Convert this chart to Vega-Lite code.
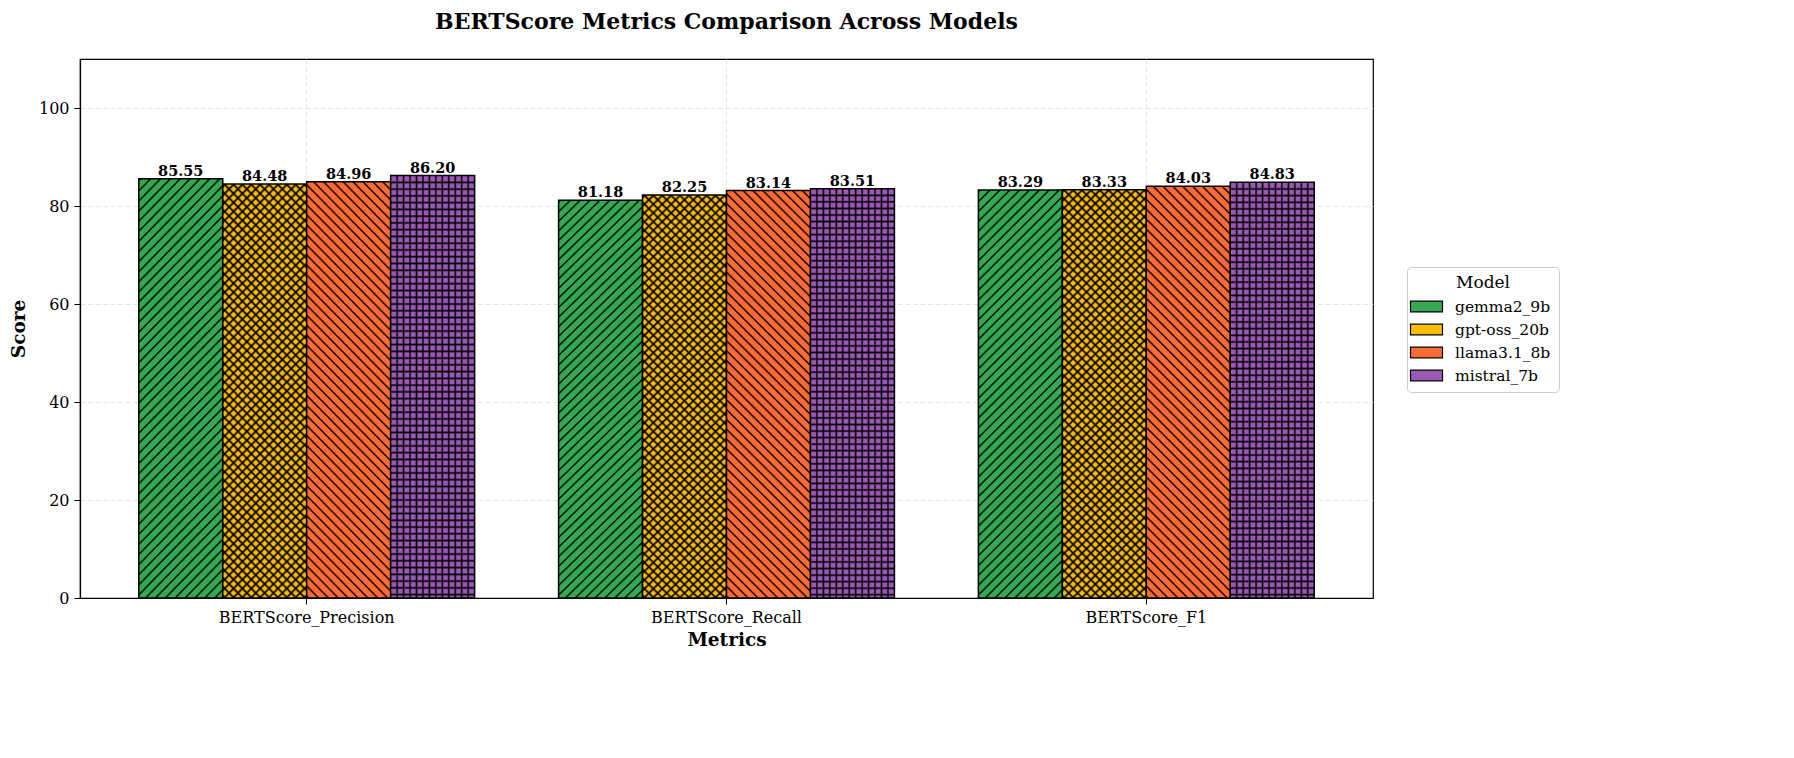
{
  "$schema": "https://vega.github.io/schema/vega-lite/v6.json",
  "width": 1293,
  "height": 539,
  "autosize": {"type": "none"},
  "padding": {"left": 80, "top": 59, "right": 421, "bottom": 160},
  "background": "white",
  "title": {"text": "BERTScore Metrics Comparison Across Models", "fontSize": 22, "fontWeight": "bold", "font": "DejaVu Serif", "anchor": "middle", "offset": 25, "color": "black"},
  "config": {
    "font": "DejaVu Serif",
    "view": {"stroke": "black", "strokeWidth": 1.2},
    "axis": {"labelFont": "DejaVu Serif", "labelFontSize": 16, "labelColor": "black", "titleFont": "DejaVu Serif", "titleFontSize": 18.5, "titleFontWeight": "bold", "titleColor": "black", "domainColor": "black", "domainWidth": 1.2, "tickColor": "black", "tickSize": 6, "tickWidth": 1, "gridColor": "#e0e0e0", "gridDash": [5, 2.5], "gridWidth": 0.8, "labelPadding": 5}
  },
  "data": {"values": [
    {"metric": "BERTScore_Precision", "model": "gemma2_9b", "score": 85.55},
    {"metric": "BERTScore_Precision", "model": "gpt-oss_20b", "score": 84.48},
    {"metric": "BERTScore_Precision", "model": "llama3.1_8b", "score": 84.96},
    {"metric": "BERTScore_Precision", "model": "mistral_7b", "score": 86.20},
    {"metric": "BERTScore_Recall", "model": "gemma2_9b", "score": 81.18},
    {"metric": "BERTScore_Recall", "model": "gpt-oss_20b", "score": 82.25},
    {"metric": "BERTScore_Recall", "model": "llama3.1_8b", "score": 83.14},
    {"metric": "BERTScore_Recall", "model": "mistral_7b", "score": 83.51},
    {"metric": "BERTScore_F1", "model": "gemma2_9b", "score": 83.29},
    {"metric": "BERTScore_F1", "model": "gpt-oss_20b", "score": 83.33},
    {"metric": "BERTScore_F1", "model": "llama3.1_8b", "score": 84.03},
    {"metric": "BERTScore_F1", "model": "mistral_7b", "score": 84.83}
  ]},
  "encoding": {
    "x": {"field": "metric", "type": "nominal", "sort": ["BERTScore_Precision", "BERTScore_Recall", "BERTScore_F1"], "scale": {"domain": ["BERTScore_Precision", "BERTScore_Recall", "BERTScore_F1"], "paddingInner": 0.2, "paddingOuter": 0.14}, "axis": {"title": "Metrics", "labelAngle": 0, "grid": true, "bandPosition": 0.5, "titlePadding": 5}},
    "xOffset": {"field": "model", "type": "nominal", "scale": {"domain": ["gemma2_9b", "gpt-oss_20b", "llama3.1_8b", "mistral_7b"], "paddingInner": 0, "paddingOuter": 0}},
    "y": {"field": "score", "type": "quantitative", "scale": {"domain": [0, 110], "nice": false}, "axis": {"title": "Score", "values": [0, 20, 40, 60, 80, 100], "grid": true, "titlePadding": 10}}
  },
  "layer": [
    {
      "mark": {"type": "bar", "stroke": "black", "strokeWidth": 1.5},
      "encoding": {
        "color": {"field": "model", "type": "nominal", "scale": {"domain": ["gemma2_9b", "gpt-oss_20b", "llama3.1_8b", "mistral_7b"], "range": ["#34A853", "#FBBC04", "#FF6B35", "#9B59B6"]}, "legend": {"title": "Model", "orient": "none", "legendX": 1327, "legendY": 208, "direction": "vertical", "symbolType": "M-1.5,-0.5H1.5V0.5H-1.5Z", "symbolSize": 455, "symbolStrokeColor": "black", "symbolStrokeWidth": 1.2, "symbolOpacity": 1, "labelFontSize": 15.5, "labelFont": "DejaVu Serif", "labelColor": "black", "labelOffset": 17, "titleFontSize": 17, "titleFontWeight": "normal", "titleFont": "DejaVu Serif", "titleColor": "black", "titleAnchor": "middle", "titlePadding": 3, "padding": 8, "fillColor": "white", "strokeColor": "#cccccc", "cornerRadius": 4, "rowPadding": 3}}
      }
    },
    {
      "transform": [{"filter": "datum.model === 'gemma2_9b'"}],
      "mark": {"type": "bar", "strokeWidth": 0, "fill": {"gradient": "linear", "x1": 0, "y1": 0, "x2": 0.237, "y2": 1.156, "stops": [
        {"offset":0,"color":"#0000"},{"offset":0.004,"color":"#000"},{"offset":0.008,"color":"#0000"},
        {"offset":0.02,"color":"#0000"},{"offset":0.024,"color":"#000"},{"offset":0.028,"color":"#0000"},
        {"offset":0.04,"color":"#0000"},{"offset":0.044,"color":"#000"},{"offset":0.048,"color":"#0000"},
        {"offset":0.06,"color":"#0000"},{"offset":0.064,"color":"#000"},{"offset":0.068,"color":"#0000"},
        {"offset":0.08,"color":"#0000"},{"offset":0.084,"color":"#000"},{"offset":0.088,"color":"#0000"},
        {"offset":0.1,"color":"#0000"},{"offset":0.104,"color":"#000"},{"offset":0.108,"color":"#0000"},
        {"offset":0.12,"color":"#0000"},{"offset":0.124,"color":"#000"},{"offset":0.128,"color":"#0000"},
        {"offset":0.14,"color":"#0000"},{"offset":0.144,"color":"#000"},{"offset":0.148,"color":"#0000"},
        {"offset":0.16,"color":"#0000"},{"offset":0.164,"color":"#000"},{"offset":0.168,"color":"#0000"},
        {"offset":0.18,"color":"#0000"},{"offset":0.184,"color":"#000"},{"offset":0.188,"color":"#0000"},
        {"offset":0.2,"color":"#0000"},{"offset":0.204,"color":"#000"},{"offset":0.208,"color":"#0000"},
        {"offset":0.22,"color":"#0000"},{"offset":0.224,"color":"#000"},{"offset":0.228,"color":"#0000"},
        {"offset":0.24,"color":"#0000"},{"offset":0.244,"color":"#000"},{"offset":0.248,"color":"#0000"},
        {"offset":0.26,"color":"#0000"},{"offset":0.264,"color":"#000"},{"offset":0.268,"color":"#0000"},
        {"offset":0.28,"color":"#0000"},{"offset":0.284,"color":"#000"},{"offset":0.288,"color":"#0000"},
        {"offset":0.3,"color":"#0000"},{"offset":0.304,"color":"#000"},{"offset":0.308,"color":"#0000"},
        {"offset":0.32,"color":"#0000"},{"offset":0.324,"color":"#000"},{"offset":0.328,"color":"#0000"},
        {"offset":0.34,"color":"#0000"},{"offset":0.344,"color":"#000"},{"offset":0.348,"color":"#0000"},
        {"offset":0.36,"color":"#0000"},{"offset":0.364,"color":"#000"},{"offset":0.368,"color":"#0000"},
        {"offset":0.38,"color":"#0000"},{"offset":0.384,"color":"#000"},{"offset":0.388,"color":"#0000"},
        {"offset":0.4,"color":"#0000"},{"offset":0.404,"color":"#000"},{"offset":0.408,"color":"#0000"},
        {"offset":0.42,"color":"#0000"},{"offset":0.424,"color":"#000"},{"offset":0.428,"color":"#0000"},
        {"offset":0.44,"color":"#0000"},{"offset":0.444,"color":"#000"},{"offset":0.448,"color":"#0000"},
        {"offset":0.46,"color":"#0000"},{"offset":0.464,"color":"#000"},{"offset":0.468,"color":"#0000"},
        {"offset":0.48,"color":"#0000"},{"offset":0.484,"color":"#000"},{"offset":0.488,"color":"#0000"},
        {"offset":0.5,"color":"#0000"},{"offset":0.504,"color":"#000"},{"offset":0.508,"color":"#0000"},
        {"offset":0.52,"color":"#0000"},{"offset":0.524,"color":"#000"},{"offset":0.528,"color":"#0000"},
        {"offset":0.54,"color":"#0000"},{"offset":0.544,"color":"#000"},{"offset":0.548,"color":"#0000"},
        {"offset":0.56,"color":"#0000"},{"offset":0.564,"color":"#000"},{"offset":0.568,"color":"#0000"},
        {"offset":0.58,"color":"#0000"},{"offset":0.584,"color":"#000"},{"offset":0.588,"color":"#0000"},
        {"offset":0.6,"color":"#0000"},{"offset":0.604,"color":"#000"},{"offset":0.608,"color":"#0000"},
        {"offset":0.62,"color":"#0000"},{"offset":0.624,"color":"#000"},{"offset":0.628,"color":"#0000"},
        {"offset":0.64,"color":"#0000"},{"offset":0.644,"color":"#000"},{"offset":0.648,"color":"#0000"},
        {"offset":0.66,"color":"#0000"},{"offset":0.664,"color":"#000"},{"offset":0.668,"color":"#0000"},
        {"offset":0.68,"color":"#0000"},{"offset":0.684,"color":"#000"},{"offset":0.688,"color":"#0000"},
        {"offset":0.7,"color":"#0000"},{"offset":0.704,"color":"#000"},{"offset":0.708,"color":"#0000"},
        {"offset":0.72,"color":"#0000"},{"offset":0.724,"color":"#000"},{"offset":0.728,"color":"#0000"},
        {"offset":0.74,"color":"#0000"},{"offset":0.744,"color":"#000"},{"offset":0.748,"color":"#0000"},
        {"offset":0.76,"color":"#0000"},{"offset":0.764,"color":"#000"},{"offset":0.768,"color":"#0000"},
        {"offset":0.78,"color":"#0000"},{"offset":0.784,"color":"#000"},{"offset":0.788,"color":"#0000"},
        {"offset":0.8,"color":"#0000"},{"offset":0.804,"color":"#000"},{"offset":0.808,"color":"#0000"},
        {"offset":0.82,"color":"#0000"},{"offset":0.824,"color":"#000"},{"offset":0.828,"color":"#0000"},
        {"offset":0.84,"color":"#0000"},{"offset":0.844,"color":"#000"},{"offset":0.848,"color":"#0000"},
        {"offset":0.86,"color":"#0000"},{"offset":0.864,"color":"#000"},{"offset":0.868,"color":"#0000"},
        {"offset":0.88,"color":"#0000"},{"offset":0.884,"color":"#000"},{"offset":0.888,"color":"#0000"},
        {"offset":0.9,"color":"#0000"},{"offset":0.904,"color":"#000"},{"offset":0.908,"color":"#0000"},
        {"offset":0.92,"color":"#0000"},{"offset":0.924,"color":"#000"},{"offset":0.928,"color":"#0000"},
        {"offset":0.94,"color":"#0000"},{"offset":0.944,"color":"#000"},{"offset":0.948,"color":"#0000"},
        {"offset":0.96,"color":"#0000"},{"offset":0.964,"color":"#000"},{"offset":0.968,"color":"#0000"},
        {"offset":0.98,"color":"#0000"},{"offset":0.984,"color":"#000"},{"offset":0.988,"color":"#0000"}
      ]}}
    },
    {
      "transform": [{"filter": "datum.model === 'llama3.1_8b'"}],
      "mark": {"type": "bar", "strokeWidth": 0, "fill": {"gradient": "linear", "x1": 0, "y1": 1, "x2": 0.237, "y2": -0.156, "stops": [
        {"offset":0,"color":"#0000"},{"offset":0.004,"color":"#000"},{"offset":0.008,"color":"#0000"},
        {"offset":0.02,"color":"#0000"},{"offset":0.024,"color":"#000"},{"offset":0.028,"color":"#0000"},
        {"offset":0.04,"color":"#0000"},{"offset":0.044,"color":"#000"},{"offset":0.048,"color":"#0000"},
        {"offset":0.06,"color":"#0000"},{"offset":0.064,"color":"#000"},{"offset":0.068,"color":"#0000"},
        {"offset":0.08,"color":"#0000"},{"offset":0.084,"color":"#000"},{"offset":0.088,"color":"#0000"},
        {"offset":0.1,"color":"#0000"},{"offset":0.104,"color":"#000"},{"offset":0.108,"color":"#0000"},
        {"offset":0.12,"color":"#0000"},{"offset":0.124,"color":"#000"},{"offset":0.128,"color":"#0000"},
        {"offset":0.14,"color":"#0000"},{"offset":0.144,"color":"#000"},{"offset":0.148,"color":"#0000"},
        {"offset":0.16,"color":"#0000"},{"offset":0.164,"color":"#000"},{"offset":0.168,"color":"#0000"},
        {"offset":0.18,"color":"#0000"},{"offset":0.184,"color":"#000"},{"offset":0.188,"color":"#0000"},
        {"offset":0.2,"color":"#0000"},{"offset":0.204,"color":"#000"},{"offset":0.208,"color":"#0000"},
        {"offset":0.22,"color":"#0000"},{"offset":0.224,"color":"#000"},{"offset":0.228,"color":"#0000"},
        {"offset":0.24,"color":"#0000"},{"offset":0.244,"color":"#000"},{"offset":0.248,"color":"#0000"},
        {"offset":0.26,"color":"#0000"},{"offset":0.264,"color":"#000"},{"offset":0.268,"color":"#0000"},
        {"offset":0.28,"color":"#0000"},{"offset":0.284,"color":"#000"},{"offset":0.288,"color":"#0000"},
        {"offset":0.3,"color":"#0000"},{"offset":0.304,"color":"#000"},{"offset":0.308,"color":"#0000"},
        {"offset":0.32,"color":"#0000"},{"offset":0.324,"color":"#000"},{"offset":0.328,"color":"#0000"},
        {"offset":0.34,"color":"#0000"},{"offset":0.344,"color":"#000"},{"offset":0.348,"color":"#0000"},
        {"offset":0.36,"color":"#0000"},{"offset":0.364,"color":"#000"},{"offset":0.368,"color":"#0000"},
        {"offset":0.38,"color":"#0000"},{"offset":0.384,"color":"#000"},{"offset":0.388,"color":"#0000"},
        {"offset":0.4,"color":"#0000"},{"offset":0.404,"color":"#000"},{"offset":0.408,"color":"#0000"},
        {"offset":0.42,"color":"#0000"},{"offset":0.424,"color":"#000"},{"offset":0.428,"color":"#0000"},
        {"offset":0.44,"color":"#0000"},{"offset":0.444,"color":"#000"},{"offset":0.448,"color":"#0000"},
        {"offset":0.46,"color":"#0000"},{"offset":0.464,"color":"#000"},{"offset":0.468,"color":"#0000"},
        {"offset":0.48,"color":"#0000"},{"offset":0.484,"color":"#000"},{"offset":0.488,"color":"#0000"},
        {"offset":0.5,"color":"#0000"},{"offset":0.504,"color":"#000"},{"offset":0.508,"color":"#0000"},
        {"offset":0.52,"color":"#0000"},{"offset":0.524,"color":"#000"},{"offset":0.528,"color":"#0000"},
        {"offset":0.54,"color":"#0000"},{"offset":0.544,"color":"#000"},{"offset":0.548,"color":"#0000"},
        {"offset":0.56,"color":"#0000"},{"offset":0.564,"color":"#000"},{"offset":0.568,"color":"#0000"},
        {"offset":0.58,"color":"#0000"},{"offset":0.584,"color":"#000"},{"offset":0.588,"color":"#0000"},
        {"offset":0.6,"color":"#0000"},{"offset":0.604,"color":"#000"},{"offset":0.608,"color":"#0000"},
        {"offset":0.62,"color":"#0000"},{"offset":0.624,"color":"#000"},{"offset":0.628,"color":"#0000"},
        {"offset":0.64,"color":"#0000"},{"offset":0.644,"color":"#000"},{"offset":0.648,"color":"#0000"},
        {"offset":0.66,"color":"#0000"},{"offset":0.664,"color":"#000"},{"offset":0.668,"color":"#0000"},
        {"offset":0.68,"color":"#0000"},{"offset":0.684,"color":"#000"},{"offset":0.688,"color":"#0000"},
        {"offset":0.7,"color":"#0000"},{"offset":0.704,"color":"#000"},{"offset":0.708,"color":"#0000"},
        {"offset":0.72,"color":"#0000"},{"offset":0.724,"color":"#000"},{"offset":0.728,"color":"#0000"},
        {"offset":0.74,"color":"#0000"},{"offset":0.744,"color":"#000"},{"offset":0.748,"color":"#0000"},
        {"offset":0.76,"color":"#0000"},{"offset":0.764,"color":"#000"},{"offset":0.768,"color":"#0000"},
        {"offset":0.78,"color":"#0000"},{"offset":0.784,"color":"#000"},{"offset":0.788,"color":"#0000"},
        {"offset":0.8,"color":"#0000"},{"offset":0.804,"color":"#000"},{"offset":0.808,"color":"#0000"},
        {"offset":0.82,"color":"#0000"},{"offset":0.824,"color":"#000"},{"offset":0.828,"color":"#0000"},
        {"offset":0.84,"color":"#0000"},{"offset":0.844,"color":"#000"},{"offset":0.848,"color":"#0000"},
        {"offset":0.86,"color":"#0000"},{"offset":0.864,"color":"#000"},{"offset":0.868,"color":"#0000"},
        {"offset":0.88,"color":"#0000"},{"offset":0.884,"color":"#000"},{"offset":0.888,"color":"#0000"},
        {"offset":0.9,"color":"#0000"},{"offset":0.904,"color":"#000"},{"offset":0.908,"color":"#0000"},
        {"offset":0.92,"color":"#0000"},{"offset":0.924,"color":"#000"},{"offset":0.928,"color":"#0000"},
        {"offset":0.94,"color":"#0000"},{"offset":0.944,"color":"#000"},{"offset":0.948,"color":"#0000"},
        {"offset":0.96,"color":"#0000"},{"offset":0.964,"color":"#000"},{"offset":0.968,"color":"#0000"},
        {"offset":0.98,"color":"#0000"},{"offset":0.984,"color":"#000"},{"offset":0.988,"color":"#0000"}
      ]}}
    },
    {
      "transform": [{"filter": "datum.model === 'gpt-oss_20b'"}],
      "mark": {"type": "bar", "strokeWidth": 0, "fill": {"gradient": "linear", "x1": 0, "y1": 0, "x2": 0.237, "y2": 1.156, "stops": [
        {"offset":0,"color":"#0000"},{"offset":0.005,"color":"#000"},{"offset":0.01,"color":"#0000"},
        {"offset":0.018,"color":"#0000"},{"offset":0.023,"color":"#000"},{"offset":0.028,"color":"#0000"},
        {"offset":0.036,"color":"#0000"},{"offset":0.041,"color":"#000"},{"offset":0.046,"color":"#0000"},
        {"offset":0.054,"color":"#0000"},{"offset":0.059,"color":"#000"},{"offset":0.064,"color":"#0000"},
        {"offset":0.072,"color":"#0000"},{"offset":0.077,"color":"#000"},{"offset":0.082,"color":"#0000"},
        {"offset":0.09,"color":"#0000"},{"offset":0.095,"color":"#000"},{"offset":0.1,"color":"#0000"},
        {"offset":0.108,"color":"#0000"},{"offset":0.113,"color":"#000"},{"offset":0.118,"color":"#0000"},
        {"offset":0.126,"color":"#0000"},{"offset":0.131,"color":"#000"},{"offset":0.136,"color":"#0000"},
        {"offset":0.144,"color":"#0000"},{"offset":0.149,"color":"#000"},{"offset":0.154,"color":"#0000"},
        {"offset":0.162,"color":"#0000"},{"offset":0.167,"color":"#000"},{"offset":0.172,"color":"#0000"},
        {"offset":0.18,"color":"#0000"},{"offset":0.185,"color":"#000"},{"offset":0.19,"color":"#0000"},
        {"offset":0.198,"color":"#0000"},{"offset":0.203,"color":"#000"},{"offset":0.208,"color":"#0000"},
        {"offset":0.216,"color":"#0000"},{"offset":0.221,"color":"#000"},{"offset":0.226,"color":"#0000"},
        {"offset":0.234,"color":"#0000"},{"offset":0.239,"color":"#000"},{"offset":0.244,"color":"#0000"},
        {"offset":0.252,"color":"#0000"},{"offset":0.257,"color":"#000"},{"offset":0.262,"color":"#0000"},
        {"offset":0.27,"color":"#0000"},{"offset":0.275,"color":"#000"},{"offset":0.28,"color":"#0000"},
        {"offset":0.288,"color":"#0000"},{"offset":0.293,"color":"#000"},{"offset":0.298,"color":"#0000"},
        {"offset":0.306,"color":"#0000"},{"offset":0.311,"color":"#000"},{"offset":0.316,"color":"#0000"},
        {"offset":0.324,"color":"#0000"},{"offset":0.329,"color":"#000"},{"offset":0.334,"color":"#0000"},
        {"offset":0.342,"color":"#0000"},{"offset":0.347,"color":"#000"},{"offset":0.352,"color":"#0000"},
        {"offset":0.36,"color":"#0000"},{"offset":0.365,"color":"#000"},{"offset":0.37,"color":"#0000"},
        {"offset":0.378,"color":"#0000"},{"offset":0.383,"color":"#000"},{"offset":0.388,"color":"#0000"},
        {"offset":0.396,"color":"#0000"},{"offset":0.401,"color":"#000"},{"offset":0.406,"color":"#0000"},
        {"offset":0.414,"color":"#0000"},{"offset":0.419,"color":"#000"},{"offset":0.424,"color":"#0000"},
        {"offset":0.432,"color":"#0000"},{"offset":0.437,"color":"#000"},{"offset":0.442,"color":"#0000"},
        {"offset":0.45,"color":"#0000"},{"offset":0.455,"color":"#000"},{"offset":0.46,"color":"#0000"},
        {"offset":0.468,"color":"#0000"},{"offset":0.473,"color":"#000"},{"offset":0.478,"color":"#0000"},
        {"offset":0.486,"color":"#0000"},{"offset":0.491,"color":"#000"},{"offset":0.496,"color":"#0000"},
        {"offset":0.504,"color":"#0000"},{"offset":0.509,"color":"#000"},{"offset":0.514,"color":"#0000"},
        {"offset":0.522,"color":"#0000"},{"offset":0.527,"color":"#000"},{"offset":0.532,"color":"#0000"},
        {"offset":0.54,"color":"#0000"},{"offset":0.545,"color":"#000"},{"offset":0.55,"color":"#0000"},
        {"offset":0.558,"color":"#0000"},{"offset":0.563,"color":"#000"},{"offset":0.568,"color":"#0000"},
        {"offset":0.576,"color":"#0000"},{"offset":0.581,"color":"#000"},{"offset":0.586,"color":"#0000"},
        {"offset":0.594,"color":"#0000"},{"offset":0.599,"color":"#000"},{"offset":0.604,"color":"#0000"},
        {"offset":0.612,"color":"#0000"},{"offset":0.617,"color":"#000"},{"offset":0.622,"color":"#0000"},
        {"offset":0.63,"color":"#0000"},{"offset":0.635,"color":"#000"},{"offset":0.64,"color":"#0000"},
        {"offset":0.648,"color":"#0000"},{"offset":0.653,"color":"#000"},{"offset":0.658,"color":"#0000"},
        {"offset":0.666,"color":"#0000"},{"offset":0.671,"color":"#000"},{"offset":0.676,"color":"#0000"},
        {"offset":0.684,"color":"#0000"},{"offset":0.689,"color":"#000"},{"offset":0.694,"color":"#0000"},
        {"offset":0.702,"color":"#0000"},{"offset":0.707,"color":"#000"},{"offset":0.712,"color":"#0000"},
        {"offset":0.72,"color":"#0000"},{"offset":0.725,"color":"#000"},{"offset":0.73,"color":"#0000"},
        {"offset":0.738,"color":"#0000"},{"offset":0.743,"color":"#000"},{"offset":0.748,"color":"#0000"},
        {"offset":0.756,"color":"#0000"},{"offset":0.761,"color":"#000"},{"offset":0.766,"color":"#0000"},
        {"offset":0.774,"color":"#0000"},{"offset":0.779,"color":"#000"},{"offset":0.784,"color":"#0000"},
        {"offset":0.792,"color":"#0000"},{"offset":0.797,"color":"#000"},{"offset":0.802,"color":"#0000"},
        {"offset":0.81,"color":"#0000"},{"offset":0.815,"color":"#000"},{"offset":0.82,"color":"#0000"},
        {"offset":0.828,"color":"#0000"},{"offset":0.833,"color":"#000"},{"offset":0.838,"color":"#0000"},
        {"offset":0.846,"color":"#0000"},{"offset":0.851,"color":"#000"},{"offset":0.856,"color":"#0000"},
        {"offset":0.864,"color":"#0000"},{"offset":0.869,"color":"#000"},{"offset":0.874,"color":"#0000"},
        {"offset":0.882,"color":"#0000"},{"offset":0.887,"color":"#000"},{"offset":0.892,"color":"#0000"},
        {"offset":0.9,"color":"#0000"},{"offset":0.905,"color":"#000"},{"offset":0.91,"color":"#0000"},
        {"offset":0.918,"color":"#0000"},{"offset":0.923,"color":"#000"},{"offset":0.928,"color":"#0000"},
        {"offset":0.936,"color":"#0000"},{"offset":0.941,"color":"#000"},{"offset":0.946,"color":"#0000"},
        {"offset":0.954,"color":"#0000"},{"offset":0.959,"color":"#000"},{"offset":0.964,"color":"#0000"},
        {"offset":0.972,"color":"#0000"},{"offset":0.977,"color":"#000"},{"offset":0.982,"color":"#0000"},
        {"offset":0.99,"color":"#0000"},{"offset":0.995,"color":"#000"},{"offset":1,"color":"#0000"}
      ]}}
    },
    {
      "transform": [{"filter": "datum.model === 'gpt-oss_20b'"}],
      "mark": {"type": "bar", "strokeWidth": 0, "fill": {"gradient": "linear", "x1": 0, "y1": 1, "x2": 0.237, "y2": -0.156, "stops": [
        {"offset":0,"color":"#0000"},{"offset":0.005,"color":"#000"},{"offset":0.01,"color":"#0000"},
        {"offset":0.018,"color":"#0000"},{"offset":0.023,"color":"#000"},{"offset":0.028,"color":"#0000"},
        {"offset":0.036,"color":"#0000"},{"offset":0.041,"color":"#000"},{"offset":0.046,"color":"#0000"},
        {"offset":0.054,"color":"#0000"},{"offset":0.059,"color":"#000"},{"offset":0.064,"color":"#0000"},
        {"offset":0.072,"color":"#0000"},{"offset":0.077,"color":"#000"},{"offset":0.082,"color":"#0000"},
        {"offset":0.09,"color":"#0000"},{"offset":0.095,"color":"#000"},{"offset":0.1,"color":"#0000"},
        {"offset":0.108,"color":"#0000"},{"offset":0.113,"color":"#000"},{"offset":0.118,"color":"#0000"},
        {"offset":0.126,"color":"#0000"},{"offset":0.131,"color":"#000"},{"offset":0.136,"color":"#0000"},
        {"offset":0.144,"color":"#0000"},{"offset":0.149,"color":"#000"},{"offset":0.154,"color":"#0000"},
        {"offset":0.162,"color":"#0000"},{"offset":0.167,"color":"#000"},{"offset":0.172,"color":"#0000"},
        {"offset":0.18,"color":"#0000"},{"offset":0.185,"color":"#000"},{"offset":0.19,"color":"#0000"},
        {"offset":0.198,"color":"#0000"},{"offset":0.203,"color":"#000"},{"offset":0.208,"color":"#0000"},
        {"offset":0.216,"color":"#0000"},{"offset":0.221,"color":"#000"},{"offset":0.226,"color":"#0000"},
        {"offset":0.234,"color":"#0000"},{"offset":0.239,"color":"#000"},{"offset":0.244,"color":"#0000"},
        {"offset":0.252,"color":"#0000"},{"offset":0.257,"color":"#000"},{"offset":0.262,"color":"#0000"},
        {"offset":0.27,"color":"#0000"},{"offset":0.275,"color":"#000"},{"offset":0.28,"color":"#0000"},
        {"offset":0.288,"color":"#0000"},{"offset":0.293,"color":"#000"},{"offset":0.298,"color":"#0000"},
        {"offset":0.306,"color":"#0000"},{"offset":0.311,"color":"#000"},{"offset":0.316,"color":"#0000"},
        {"offset":0.324,"color":"#0000"},{"offset":0.329,"color":"#000"},{"offset":0.334,"color":"#0000"},
        {"offset":0.342,"color":"#0000"},{"offset":0.347,"color":"#000"},{"offset":0.352,"color":"#0000"},
        {"offset":0.36,"color":"#0000"},{"offset":0.365,"color":"#000"},{"offset":0.37,"color":"#0000"},
        {"offset":0.378,"color":"#0000"},{"offset":0.383,"color":"#000"},{"offset":0.388,"color":"#0000"},
        {"offset":0.396,"color":"#0000"},{"offset":0.401,"color":"#000"},{"offset":0.406,"color":"#0000"},
        {"offset":0.414,"color":"#0000"},{"offset":0.419,"color":"#000"},{"offset":0.424,"color":"#0000"},
        {"offset":0.432,"color":"#0000"},{"offset":0.437,"color":"#000"},{"offset":0.442,"color":"#0000"},
        {"offset":0.45,"color":"#0000"},{"offset":0.455,"color":"#000"},{"offset":0.46,"color":"#0000"},
        {"offset":0.468,"color":"#0000"},{"offset":0.473,"color":"#000"},{"offset":0.478,"color":"#0000"},
        {"offset":0.486,"color":"#0000"},{"offset":0.491,"color":"#000"},{"offset":0.496,"color":"#0000"},
        {"offset":0.504,"color":"#0000"},{"offset":0.509,"color":"#000"},{"offset":0.514,"color":"#0000"},
        {"offset":0.522,"color":"#0000"},{"offset":0.527,"color":"#000"},{"offset":0.532,"color":"#0000"},
        {"offset":0.54,"color":"#0000"},{"offset":0.545,"color":"#000"},{"offset":0.55,"color":"#0000"},
        {"offset":0.558,"color":"#0000"},{"offset":0.563,"color":"#000"},{"offset":0.568,"color":"#0000"},
        {"offset":0.576,"color":"#0000"},{"offset":0.581,"color":"#000"},{"offset":0.586,"color":"#0000"},
        {"offset":0.594,"color":"#0000"},{"offset":0.599,"color":"#000"},{"offset":0.604,"color":"#0000"},
        {"offset":0.612,"color":"#0000"},{"offset":0.617,"color":"#000"},{"offset":0.622,"color":"#0000"},
        {"offset":0.63,"color":"#0000"},{"offset":0.635,"color":"#000"},{"offset":0.64,"color":"#0000"},
        {"offset":0.648,"color":"#0000"},{"offset":0.653,"color":"#000"},{"offset":0.658,"color":"#0000"},
        {"offset":0.666,"color":"#0000"},{"offset":0.671,"color":"#000"},{"offset":0.676,"color":"#0000"},
        {"offset":0.684,"color":"#0000"},{"offset":0.689,"color":"#000"},{"offset":0.694,"color":"#0000"},
        {"offset":0.702,"color":"#0000"},{"offset":0.707,"color":"#000"},{"offset":0.712,"color":"#0000"},
        {"offset":0.72,"color":"#0000"},{"offset":0.725,"color":"#000"},{"offset":0.73,"color":"#0000"},
        {"offset":0.738,"color":"#0000"},{"offset":0.743,"color":"#000"},{"offset":0.748,"color":"#0000"},
        {"offset":0.756,"color":"#0000"},{"offset":0.761,"color":"#000"},{"offset":0.766,"color":"#0000"},
        {"offset":0.774,"color":"#0000"},{"offset":0.779,"color":"#000"},{"offset":0.784,"color":"#0000"},
        {"offset":0.792,"color":"#0000"},{"offset":0.797,"color":"#000"},{"offset":0.802,"color":"#0000"},
        {"offset":0.81,"color":"#0000"},{"offset":0.815,"color":"#000"},{"offset":0.82,"color":"#0000"},
        {"offset":0.828,"color":"#0000"},{"offset":0.833,"color":"#000"},{"offset":0.838,"color":"#0000"},
        {"offset":0.846,"color":"#0000"},{"offset":0.851,"color":"#000"},{"offset":0.856,"color":"#0000"},
        {"offset":0.864,"color":"#0000"},{"offset":0.869,"color":"#000"},{"offset":0.874,"color":"#0000"},
        {"offset":0.882,"color":"#0000"},{"offset":0.887,"color":"#000"},{"offset":0.892,"color":"#0000"},
        {"offset":0.9,"color":"#0000"},{"offset":0.905,"color":"#000"},{"offset":0.91,"color":"#0000"},
        {"offset":0.918,"color":"#0000"},{"offset":0.923,"color":"#000"},{"offset":0.928,"color":"#0000"},
        {"offset":0.936,"color":"#0000"},{"offset":0.941,"color":"#000"},{"offset":0.946,"color":"#0000"},
        {"offset":0.954,"color":"#0000"},{"offset":0.959,"color":"#000"},{"offset":0.964,"color":"#0000"},
        {"offset":0.972,"color":"#0000"},{"offset":0.977,"color":"#000"},{"offset":0.982,"color":"#0000"},
        {"offset":0.99,"color":"#0000"},{"offset":0.995,"color":"#000"},{"offset":1,"color":"#0000"}
      ]}}
    },
    {
      "transform": [{"filter": "datum.model === 'mistral_7b'"}],
      "mark": {"type": "bar", "strokeWidth": 0, "fill": {"gradient": "linear", "x1": 0, "y1": 0, "x2": 1, "y2": 0, "stops": [
        {"offset":0.0589,"color":"#0000"},{"offset":0.0769,"color":"#000"},{"offset":0.0949,"color":"#0000"},
        {"offset":0.1358,"color":"#0000"},{"offset":0.1538,"color":"#000"},{"offset":0.1718,"color":"#0000"},
        {"offset":0.2128,"color":"#0000"},{"offset":0.2308,"color":"#000"},{"offset":0.2488,"color":"#0000"},
        {"offset":0.2897,"color":"#0000"},{"offset":0.3077,"color":"#000"},{"offset":0.3257,"color":"#0000"},
        {"offset":0.3666,"color":"#0000"},{"offset":0.3846,"color":"#000"},{"offset":0.4026,"color":"#0000"},
        {"offset":0.4435,"color":"#0000"},{"offset":0.4615,"color":"#000"},{"offset":0.4795,"color":"#0000"},
        {"offset":0.5205,"color":"#0000"},{"offset":0.5385,"color":"#000"},{"offset":0.5565,"color":"#0000"},
        {"offset":0.5974,"color":"#0000"},{"offset":0.6154,"color":"#000"},{"offset":0.6334,"color":"#0000"},
        {"offset":0.6743,"color":"#0000"},{"offset":0.6923,"color":"#000"},{"offset":0.7103,"color":"#0000"},
        {"offset":0.7512,"color":"#0000"},{"offset":0.7692,"color":"#000"},{"offset":0.7872,"color":"#0000"},
        {"offset":0.8282,"color":"#0000"},{"offset":0.8462,"color":"#000"},{"offset":0.8642,"color":"#0000"},
        {"offset":0.9051,"color":"#0000"},{"offset":0.9231,"color":"#000"},{"offset":0.9411,"color":"#0000"}
      ]}}
    },
    {
      "transform": [{"filter": "datum.model === 'mistral_7b'"}],
      "mark": {"type": "bar", "strokeWidth": 0, "fill": {"gradient": "linear", "x1": 0, "y1": 0, "x2": 0, "y2": 1, "stops": [
        {"offset":0.012,"color":"#0000"},{"offset":0.016,"color":"#000"},{"offset":0.02,"color":"#0000"},
        {"offset":0.028,"color":"#0000"},{"offset":0.032,"color":"#000"},{"offset":0.036,"color":"#0000"},
        {"offset":0.044,"color":"#0000"},{"offset":0.048,"color":"#000"},{"offset":0.052,"color":"#0000"},
        {"offset":0.06,"color":"#0000"},{"offset":0.064,"color":"#000"},{"offset":0.068,"color":"#0000"},
        {"offset":0.076,"color":"#0000"},{"offset":0.08,"color":"#000"},{"offset":0.084,"color":"#0000"},
        {"offset":0.092,"color":"#0000"},{"offset":0.096,"color":"#000"},{"offset":0.1,"color":"#0000"},
        {"offset":0.108,"color":"#0000"},{"offset":0.112,"color":"#000"},{"offset":0.116,"color":"#0000"},
        {"offset":0.124,"color":"#0000"},{"offset":0.128,"color":"#000"},{"offset":0.132,"color":"#0000"},
        {"offset":0.14,"color":"#0000"},{"offset":0.144,"color":"#000"},{"offset":0.148,"color":"#0000"},
        {"offset":0.156,"color":"#0000"},{"offset":0.16,"color":"#000"},{"offset":0.164,"color":"#0000"},
        {"offset":0.172,"color":"#0000"},{"offset":0.176,"color":"#000"},{"offset":0.18,"color":"#0000"},
        {"offset":0.188,"color":"#0000"},{"offset":0.192,"color":"#000"},{"offset":0.196,"color":"#0000"},
        {"offset":0.204,"color":"#0000"},{"offset":0.208,"color":"#000"},{"offset":0.212,"color":"#0000"},
        {"offset":0.22,"color":"#0000"},{"offset":0.224,"color":"#000"},{"offset":0.228,"color":"#0000"},
        {"offset":0.236,"color":"#0000"},{"offset":0.24,"color":"#000"},{"offset":0.244,"color":"#0000"},
        {"offset":0.252,"color":"#0000"},{"offset":0.256,"color":"#000"},{"offset":0.26,"color":"#0000"},
        {"offset":0.268,"color":"#0000"},{"offset":0.272,"color":"#000"},{"offset":0.276,"color":"#0000"},
        {"offset":0.284,"color":"#0000"},{"offset":0.288,"color":"#000"},{"offset":0.292,"color":"#0000"},
        {"offset":0.3,"color":"#0000"},{"offset":0.304,"color":"#000"},{"offset":0.308,"color":"#0000"},
        {"offset":0.316,"color":"#0000"},{"offset":0.32,"color":"#000"},{"offset":0.324,"color":"#0000"},
        {"offset":0.332,"color":"#0000"},{"offset":0.336,"color":"#000"},{"offset":0.34,"color":"#0000"},
        {"offset":0.348,"color":"#0000"},{"offset":0.352,"color":"#000"},{"offset":0.356,"color":"#0000"},
        {"offset":0.364,"color":"#0000"},{"offset":0.368,"color":"#000"},{"offset":0.372,"color":"#0000"},
        {"offset":0.38,"color":"#0000"},{"offset":0.384,"color":"#000"},{"offset":0.388,"color":"#0000"},
        {"offset":0.396,"color":"#0000"},{"offset":0.4,"color":"#000"},{"offset":0.404,"color":"#0000"},
        {"offset":0.412,"color":"#0000"},{"offset":0.416,"color":"#000"},{"offset":0.42,"color":"#0000"},
        {"offset":0.428,"color":"#0000"},{"offset":0.432,"color":"#000"},{"offset":0.436,"color":"#0000"},
        {"offset":0.444,"color":"#0000"},{"offset":0.448,"color":"#000"},{"offset":0.452,"color":"#0000"},
        {"offset":0.46,"color":"#0000"},{"offset":0.464,"color":"#000"},{"offset":0.468,"color":"#0000"},
        {"offset":0.476,"color":"#0000"},{"offset":0.48,"color":"#000"},{"offset":0.484,"color":"#0000"},
        {"offset":0.492,"color":"#0000"},{"offset":0.496,"color":"#000"},{"offset":0.5,"color":"#0000"},
        {"offset":0.508,"color":"#0000"},{"offset":0.512,"color":"#000"},{"offset":0.516,"color":"#0000"},
        {"offset":0.524,"color":"#0000"},{"offset":0.528,"color":"#000"},{"offset":0.532,"color":"#0000"},
        {"offset":0.54,"color":"#0000"},{"offset":0.544,"color":"#000"},{"offset":0.548,"color":"#0000"},
        {"offset":0.556,"color":"#0000"},{"offset":0.56,"color":"#000"},{"offset":0.564,"color":"#0000"},
        {"offset":0.572,"color":"#0000"},{"offset":0.576,"color":"#000"},{"offset":0.58,"color":"#0000"},
        {"offset":0.588,"color":"#0000"},{"offset":0.592,"color":"#000"},{"offset":0.596,"color":"#0000"},
        {"offset":0.604,"color":"#0000"},{"offset":0.608,"color":"#000"},{"offset":0.612,"color":"#0000"},
        {"offset":0.62,"color":"#0000"},{"offset":0.624,"color":"#000"},{"offset":0.628,"color":"#0000"},
        {"offset":0.636,"color":"#0000"},{"offset":0.64,"color":"#000"},{"offset":0.644,"color":"#0000"},
        {"offset":0.652,"color":"#0000"},{"offset":0.656,"color":"#000"},{"offset":0.66,"color":"#0000"},
        {"offset":0.668,"color":"#0000"},{"offset":0.672,"color":"#000"},{"offset":0.676,"color":"#0000"},
        {"offset":0.684,"color":"#0000"},{"offset":0.688,"color":"#000"},{"offset":0.692,"color":"#0000"},
        {"offset":0.7,"color":"#0000"},{"offset":0.704,"color":"#000"},{"offset":0.708,"color":"#0000"},
        {"offset":0.716,"color":"#0000"},{"offset":0.72,"color":"#000"},{"offset":0.724,"color":"#0000"},
        {"offset":0.732,"color":"#0000"},{"offset":0.736,"color":"#000"},{"offset":0.74,"color":"#0000"},
        {"offset":0.748,"color":"#0000"},{"offset":0.752,"color":"#000"},{"offset":0.756,"color":"#0000"},
        {"offset":0.764,"color":"#0000"},{"offset":0.768,"color":"#000"},{"offset":0.772,"color":"#0000"},
        {"offset":0.78,"color":"#0000"},{"offset":0.784,"color":"#000"},{"offset":0.788,"color":"#0000"},
        {"offset":0.796,"color":"#0000"},{"offset":0.8,"color":"#000"},{"offset":0.804,"color":"#0000"},
        {"offset":0.812,"color":"#0000"},{"offset":0.816,"color":"#000"},{"offset":0.82,"color":"#0000"},
        {"offset":0.828,"color":"#0000"},{"offset":0.832,"color":"#000"},{"offset":0.836,"color":"#0000"},
        {"offset":0.844,"color":"#0000"},{"offset":0.848,"color":"#000"},{"offset":0.852,"color":"#0000"},
        {"offset":0.86,"color":"#0000"},{"offset":0.864,"color":"#000"},{"offset":0.868,"color":"#0000"},
        {"offset":0.876,"color":"#0000"},{"offset":0.88,"color":"#000"},{"offset":0.884,"color":"#0000"},
        {"offset":0.892,"color":"#0000"},{"offset":0.896,"color":"#000"},{"offset":0.9,"color":"#0000"},
        {"offset":0.908,"color":"#0000"},{"offset":0.912,"color":"#000"},{"offset":0.916,"color":"#0000"},
        {"offset":0.924,"color":"#0000"},{"offset":0.928,"color":"#000"},{"offset":0.932,"color":"#0000"},
        {"offset":0.94,"color":"#0000"},{"offset":0.944,"color":"#000"},{"offset":0.948,"color":"#0000"},
        {"offset":0.956,"color":"#0000"},{"offset":0.96,"color":"#000"},{"offset":0.964,"color":"#0000"},
        {"offset":0.972,"color":"#0000"},{"offset":0.976,"color":"#000"},{"offset":0.98,"color":"#0000"},
        {"offset":0.988,"color":"#0000"},{"offset":0.992,"color":"#000"},{"offset":0.996,"color":"#0000"}
      ]}}
    },
    {
      "mark": {"type": "text", "dy": -3, "baseline": "alphabetic", "fontWeight": "bold", "fontSize": 14.5, "font": "DejaVu Serif", "color": "black"},
      "encoding": {"text": {"field": "score", "type": "quantitative", "format": ".2f"}}
    }
  ]
}
